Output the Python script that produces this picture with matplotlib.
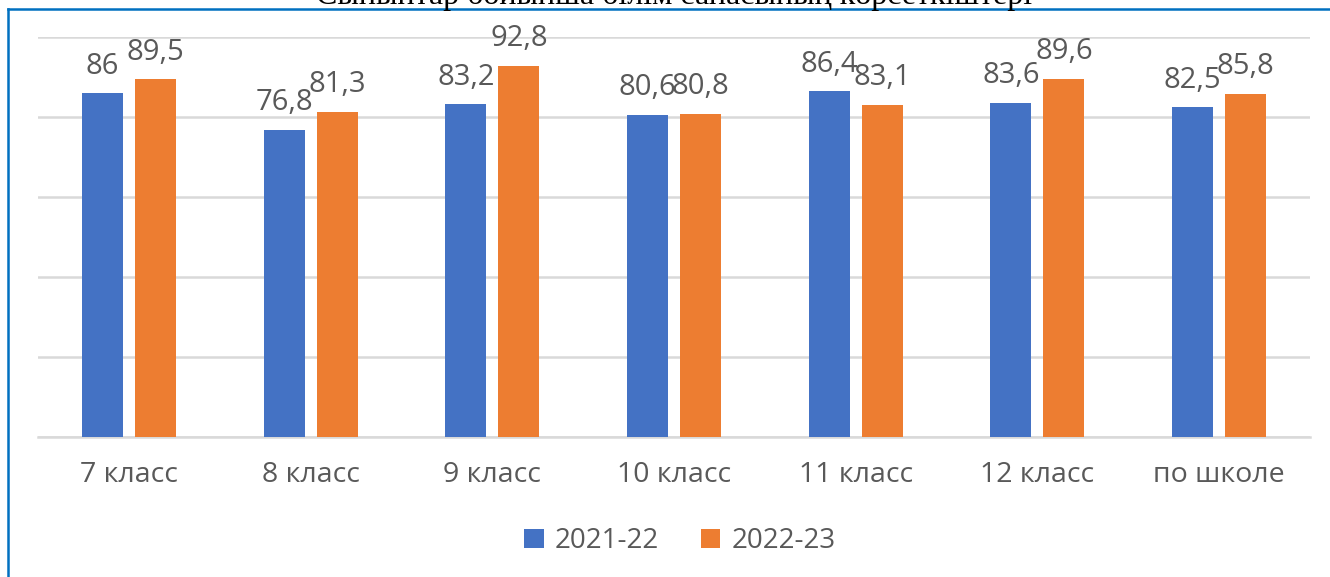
import matplotlib.pyplot as plt
import numpy as np
from matplotlib.lines import Line2D

plt.rcParams['font.family'] = ['Open Sans', 'DejaVu Sans']

title = "Сыныптар бойынша білім сапасының көрсеткіштері"
categories = ["7 класс", "8 класс", "9 класс", "10 класс", "11 класс", "12 класс", "по школе"]
series_names = ["2021-22", "2022-23"]
values_2021 = [86, 76.8, 83.2, 80.6, 86.4, 83.6, 82.5]
values_2022 = [89.5, 81.3, 92.8, 80.8, 83.1, 89.6, 85.8]

blue = "#4472C4"
orange = "#ED7D31"
text_col = "#595959"
grid_col = "#D9D9D9"

fig = plt.figure(figsize=(13.3, 5.77), dpi=100)
ax = fig.add_axes([38 / 1330, 1 - 437 / 577, 1272 / 1330, 400 / 577])

x = np.arange(len(categories))
w = 0.226
off = 0.146
b1 = ax.bar(x - off, values_2021, w, color=blue, label=series_names[0], zorder=3)
b2 = ax.bar(x + off, values_2022, w, color=orange, label=series_names[1], zorder=3)

def fmt(v):
    s = f"{v:g}"
    return s.replace(".", ",")

for bars, vals in [(b1, values_2021), (b2, values_2022)]:
    for rect, v in zip(bars, vals):
        ax.annotate(fmt(v), (rect.get_x() + rect.get_width() / 2, v),
                    xytext=(0, 9), textcoords="offset points",
                    ha="center", va="bottom", fontsize=21, color=text_col)

ax.set_xlim(-0.5, len(categories) - 0.5)
ax.set_ylim(0, 100)
ax.set_yticks([0, 20, 40, 60, 80, 100])
ax.yaxis.grid(True, color=grid_col, linewidth=1.8, zorder=0)
ax.tick_params(axis="y", left=False, labelleft=False)
ax.tick_params(axis="x", length=0, pad=17, labelsize=20.5, labelcolor=text_col)
ax.set_xticks(x)
ax.set_xticklabels(categories)
for s in ["top", "right", "left"]:
    ax.spines[s].set_visible(False)
ax.spines["bottom"].set_color(grid_col)
ax.spines["bottom"].set_linewidth(1.8)

leg = fig.legend(loc="center", bbox_to_anchor=(680 / 1330, 1 - 541 / 577), ncol=2,
                 frameon=False, fontsize=20, handlelength=0.7, handleheight=0.7,
                 handletextpad=0.4, columnspacing=1.5)
for t in leg.get_texts():
    t.set_color(text_col)

# cropped title above the frame
fig.text(674 / 1330, 1 - 4 / 577, title, ha="center", va="baseline",
         fontsize=23, family="Liberation Serif", color="black")

# blue frame lines (top and left)
fig.add_artist(Line2D([8 / 1330, 1], [1 - 9 / 577, 1 - 9 / 577], color="#0070C0", linewidth=1.8))
fig.add_artist(Line2D([8 / 1330, 8 / 1330], [0, 1 - 9 / 577], color="#0070C0", linewidth=1.8))

fig.savefig("out.png", dpi=100)
